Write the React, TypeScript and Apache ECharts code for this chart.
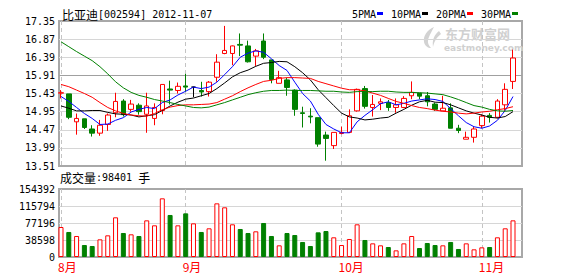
import React, { useEffect, useRef } from "react";
import * as echarts from "echarts";

// ---------- data ----------
const dates = [
  "2012-08-10", "2012-08-13", "2012-08-14", "2012-08-15", "2012-08-16", "2012-08-17", "2012-08-20", "2012-08-21",
  "2012-08-22", "2012-08-23", "2012-08-24", "2012-08-27", "2012-08-28", "2012-08-29", "2012-08-30", "2012-08-31",
  "2012-09-03", "2012-09-04", "2012-09-05", "2012-09-06", "2012-09-07", "2012-09-10", "2012-09-11", "2012-09-12",
  "2012-09-13", "2012-09-14", "2012-09-17", "2012-09-18", "2012-09-19", "2012-09-20", "2012-09-21", "2012-09-24",
  "2012-09-25", "2012-09-26", "2012-09-27", "2012-09-28",
  "2012-10-08", "2012-10-09", "2012-10-10", "2012-10-11", "2012-10-12", "2012-10-15", "2012-10-16", "2012-10-17",
  "2012-10-18", "2012-10-19", "2012-10-22", "2012-10-23", "2012-10-24", "2012-10-25", "2012-10-26", "2012-10-29",
  "2012-10-30", "2012-10-31",
  "2012-11-01", "2012-11-02", "2012-11-05", "2012-11-06", "2012-11-07",
];

const opens = [
  15.44, 15.42, 14.68, 14.76, 14.49, 14.38, 14.61, 14.92, 15.23, 15.01,
  15.12, 14.88, 14.77, 14.98, 15.55, 15.51, 15.63, 15.6, 15.51, 15.48,
  15.86, 16.49, 16.49, 16.73, 16.69, 16.42, 16.82, 16.32, 15.7, 15.79,
  15.52, 14.92, 14.83, 14.79, 14.33, 14.05, 14.37, 14.4, 14.97, 15.56,
  15.06, 15.17, 15.19, 15.06, 15.06, 15.37, 15.44, 15.37, 15.15, 14.97,
  15.05, 14.51, 14.22, 14.27, 14.58, 14.85, 14.8, 15.13, 15.75,
];
const closes = [
  15.45, 14.8, 14.77, 14.53, 14.38, 14.59, 14.86, 15.22, 14.87, 15.15,
  14.95, 15.1, 15.06, 15.67, 15.52, 15.62, 15.6, 15.6, 15.47, 15.73,
  16.26, 16.57, 16.69, 16.71, 16.27, 16.56, 16.39, 15.8, 15.85, 15.59,
  15.01, 14.9, 14.81, 14.09, 14.24, 14.4, 14.4, 14.84, 15.54, 15.09,
  15.14, 15.21, 15.06, 15.13, 15.3, 15.46, 15.36, 15.21, 15.01, 15.04,
  14.51, 14.45, 14.27, 14.49, 14.83, 14.8, 15.23, 15.54, 16.37,
];
const lows = [
  15.3, 14.75, 14.34, 14.49, 14.29, 14.31, 14.44, 14.8, 14.82, 14.95,
  14.87, 14.39, 14.59, 14.88, 15.14, 15.43, 15.48, 15.33, 15.35, 15.35,
  15.74, 16.47, 16.18, 16.42, 16.25, 16.16, 16.34, 15.7, 15.7, 15.37,
  14.84, 14.53, 14.64, 14.02, 13.65, 13.96, 14.35, 14.38, 14.95, 15.03,
  14.82, 14.99, 14.97, 14.92, 15.04, 15.28, 15.28, 15.09, 14.97, 14.97,
  14.51, 14.38, 14.22, 14.13, 14.51, 14.66, 14.77, 14.97, 15.55,
];
const highs = [
  15.52, 15.42, 14.9, 14.76, 14.59, 14.73, 14.9, 15.45, 15.28, 15.26,
  15.17, 15.45, 15.17, 15.67, 15.77, 15.72, 15.95, 15.61, 15.74, 15.76,
  16.47, 17.22, 16.7, 17.02, 16.83, 16.61, 17.02, 16.32, 16.03, 15.84,
  15.54, 15.08, 15.04, 14.79, 14.42, 14.4, 14.55, 15.01, 15.56, 15.63,
  15.39, 15.3, 15.26, 15.3, 15.36, 15.75, 15.44, 15.47, 15.19, 15.37,
  15.17, 14.6, 14.42, 14.55, 14.88, 14.91, 15.28, 15.7, 16.59,
];
const volumes = [
  68100, 56800, 47700, 27200, 25000, 40100, 49200, 90100, 54500, 51500,
  47700, 83200, 71900, 133200, 95400, 71900, 99100, 76400, 56800, 65100,
  121800, 112800, 74200, 63600, 54500, 58300, 77200, 47700, 26500, 54500,
  49900, 34100, 25000, 56000, 59000, 44700, 27200, 40900, 74200, 38600,
  31000, 26500, 22700, 15100, 31000, 47700, 20400, 31800, 27200, 26500,
  34100, 18200, 31000, 17400, 21900, 22700, 44700, 65100, 83200,
];
const ma5 = [
  15.35, 15.22, 15.06, 14.9, 14.77, 14.61, 14.62, 14.72, 14.79, 14.94,
  15.01, 15.06, 15.03, 15.19, 15.26, 15.39, 15.49, 15.6, 15.56, 15.6,
  15.73, 15.93, 16.14, 16.39, 16.5, 16.56, 16.52, 16.35, 16.17, 16.04,
  15.73, 15.43, 15.23, 14.88, 14.61, 14.49, 14.39, 14.39, 14.68, 14.85,
  15.0, 15.16, 15.21, 15.13, 15.17, 15.23, 15.26, 15.29, 15.27, 15.22,
  15.03, 14.84, 14.66, 14.55, 14.51, 14.57, 14.72, 14.98, 15.35,
];
const ma10 = [
  15.1, 15.04, 14.97, 14.97, 14.98, 14.98, 14.93, 14.89, 14.88, 14.86,
  14.81, 14.84, 14.87, 14.98, 15.1, 15.2, 15.28, 15.31, 15.37, 15.43,
  15.56, 15.71, 15.87, 15.98, 16.05, 16.15, 16.23, 16.25, 16.28, 16.27,
  16.14, 15.98, 15.79, 15.53, 15.32, 15.11, 14.91, 14.81, 14.78, 14.73,
  14.75, 14.78, 14.8, 14.91, 15.01, 15.12, 15.21, 15.25, 15.2, 15.19,
  15.13, 15.05, 14.97, 14.91, 14.86, 14.8, 14.78, 14.82, 14.95,
];
const ma20 = [
  15.67, 15.61, 15.52, 15.43, 15.33, 15.19, 15.06, 14.97, 14.9, 14.86,
  14.84, 14.83, 14.9, 15.0, 15.07, 15.11, 15.13, 15.13, 15.14, 15.15,
  15.19, 15.28, 15.37, 15.48, 15.58, 15.67, 15.75, 15.78, 15.83, 15.85,
  15.85, 15.84, 15.83, 15.75, 15.69, 15.63, 15.57, 15.53, 15.53, 15.5,
  15.44, 15.38, 15.3, 15.22, 15.17, 15.11, 15.06, 15.03, 14.99, 14.96,
  14.94, 14.91, 14.89, 14.91, 14.94, 14.96, 15.0, 15.03, 15.08,
];
const ma30 = [
  16.8, 16.67, 16.54, 16.42, 16.3, 16.14, 15.95, 15.74, 15.58, 15.46,
  15.38, 15.33, 15.27, 15.23, 15.19, 15.14, 15.1, 15.06, 15.05, 15.07,
  15.13, 15.19, 15.26, 15.33, 15.4, 15.45, 15.49, 15.51, 15.51, 15.52,
  15.51, 15.51, 15.51, 15.5, 15.49, 15.49, 15.47, 15.46, 15.48, 15.48,
  15.48, 15.49, 15.49, 15.47, 15.46, 15.46, 15.45, 15.44, 15.42, 15.4,
  15.34, 15.27, 15.19, 15.11, 15.07, 15.01, 14.97, 14.96, 14.98,
];
const maNames = ["5PMA", "10PMA", "20PMA", "30PMA"];
const priceTicks = [13.51, 13.99, 14.47, 14.95, 15.43, 15.91, 16.39, 16.87, 17.35];
const volumeTicks = [0, 38598, 77196, 115794, 154392];
const stockName = "比亚迪";
const stockCode = "[002594]";
const quoteDate = "2012-11-07";
const lastVolume = 98401;

// ---------- styles / layout ----------
const UP = "#ff0000";
const DOWN = "#008000";
const FLAT = "#000000";
const MA_COLORS = ["#0000ff", "#000000", "#ff0000", "#008000"];
const MONO = "DejaVu Sans Mono";
const CJK = "Noto Sans CJK SC";
const FRAME_LEFT = 59;
const FRAME_W = 463;
const DATA_LEFT = 61;
const DATA_W = 452;
const PRICE_TOP = 21;
const PRICE_H = 145;
const VOL_TOP = 189;
const VOL_H = 68;

const LOGO_D =
  "M12 0 C5 3 1 9 2 15 C3 19 6 21 9 21 C6 18 5 14 7 10 C8 7 10 4 12 0 Z M17 4 C12 8 10 13 11 20 C12 15 14 11 19 7 Z";
try {
  echarts.graphic.registerShape("logo", echarts.graphic.extendPath(LOGO_D, {}));
} catch (e) {
  /* already registered */
}

function buildOption() {
  const monthStarts = dates
    .map((d, i) => (i === 0 || d.slice(5, 7) !== dates[i - 1].slice(5, 7) ? i : -1))
    .filter((i) => i >= 0);
  const isMonthStart = (i: number) => monthStarts.indexOf(i) >= 0;

  const candleData = dates.map((_, i) => {
    const v = [opens[i], closes[i], lows[i], highs[i]];
    if (opens[i] === closes[i]) {
      return {
        value: v,
        itemStyle: { color: FLAT, color0: FLAT, borderColor: FLAT, borderColor0: FLAT, borderColorDoji: FLAT },
      };
    }
    return v;
  });

  const volData = dates.map((_, i) => {
    const up = closes[i] >= opens[i];
    return {
      value: volumes[i],
      itemStyle: up
        ? { color: "#ffffff", borderColor: UP, borderWidth: 1 }
        : { color: DOWN, borderColor: DOWN, borderWidth: 1 },
    };
  });

  const pStep = Math.round((priceTicks[1] - priceTicks[0]) * 100) / 100;
  const vStep = volumeTicks[1] - volumeTicks[0];
  const midIdx = Math.floor(priceTicks.length / 2);
  const priceLineColors = priceTicks.map((_, i) => (i === midIdx ? "#a0a0a0" : "#d6d6d6"));

  const mas = [ma5, ma10, ma20, ma30];

  // legend graphics
  const legend: any[] = [];
  let lx = 352;
  maNames.forEach((name, k) => {
    const tw = name.length * 6;
    legend.push({
      type: "text",
      x: lx,
      y: 14,
      style: { text: name, fontFamily: MONO, fontSize: 10, fill: "#000", verticalAlign: "middle" },
    });
    legend.push({
      type: "rect",
      shape: { x: lx + tw + 1, y: 12, width: 6, height: 3 },
      style: { fill: MA_COLORS[k] },
    });
    lx += tw + 1 + 6 + 8;
  });

  const vDash = { color: "#c4c4c4", type: [4, 3], width: 1 };

  return {
    animation: false,
    backgroundColor: "#ffffff",
    grid: [
      { left: FRAME_LEFT, top: PRICE_TOP, width: FRAME_W, height: PRICE_H, show: true, borderColor: "#a8a8a8", borderWidth: 2, backgroundColor: "transparent" },
      { left: DATA_LEFT, top: PRICE_TOP, width: DATA_W, height: PRICE_H },
      { left: FRAME_LEFT, top: VOL_TOP, width: FRAME_W, height: VOL_H, show: true, borderColor: "#a8a8a8", borderWidth: 2, backgroundColor: "transparent" },
      { left: DATA_LEFT, top: VOL_TOP, width: DATA_W, height: VOL_H },
    ],
    xAxis: [
      { gridIndex: 0, type: "value", min: 0, max: 1, show: false },
      {
        gridIndex: 1,
        type: "category",
        data: dates,
        boundaryGap: false,
        axisLine: { show: false },
        axisTick: { show: false },
        axisLabel: { show: false },
        splitLine: { show: true, interval: (i: number) => isMonthStart(i), lineStyle: vDash },
      },
      { gridIndex: 2, type: "value", min: 0, max: 1, show: false },
      {
        gridIndex: 3,
        type: "category",
        data: dates,
        boundaryGap: false,
        axisLine: { show: false },
        axisTick: { show: false },
        axisLabel: {
          show: true,
          interval: (i: number) => isMonthStart(i),
          formatter: (v: string) => Number(v.slice(5, 7)) + "月",
          color: UP,
          fontFamily: CJK,
          fontSize: 12,
          align: "left",
          margin: 3,
          padding: [0, 0, 0, -3],
        },
        splitLine: { show: true, interval: (i: number) => isMonthStart(i), lineStyle: vDash },
      },
    ],
    yAxis: [
      {
        gridIndex: 0,
        type: "value",
        min: priceTicks[0],
        max: priceTicks[priceTicks.length - 1],
        interval: pStep,
        axisLine: { show: false },
        axisTick: { show: false },
        axisLabel: {
          formatter: (v: number) => v.toFixed(2),
          fontFamily: MONO,
          fontSize: 10,
          color: "#000",
          margin: 4,
          padding: [0, 0, 3, 0],
        },
        splitLine: { show: true, showMinLine: false, showMaxLine: false, lineStyle: { color: priceLineColors, width: 1 } },
      },
      { gridIndex: 1, type: "value", min: priceTicks[0], max: priceTicks[priceTicks.length - 1], show: false },
      {
        gridIndex: 2,
        type: "value",
        min: volumeTicks[0],
        max: volumeTicks[volumeTicks.length - 1],
        interval: vStep,
        axisLine: { show: false },
        axisTick: { show: false },
        axisLabel: {
          formatter: (v: number) => String(Math.round(v)),
          fontFamily: MONO,
          fontSize: 10,
          color: "#000",
          margin: 4,
          padding: [5, 0, 0, 0],
        },
        splitLine: { show: true, showMinLine: false, showMaxLine: false, lineStyle: { color: "#d6d6d6", width: 1 } },
      },
      { gridIndex: 3, type: "value", min: volumeTicks[0], max: volumeTicks[volumeTicks.length - 1], show: false },
    ],
    series: [
      {
        type: "candlestick",
        xAxisIndex: 1,
        yAxisIndex: 1,
        data: candleData,
        barWidth: 5,
        itemStyle: {
          color: "#ffffff",
          color0: DOWN,
          borderColor: UP,
          borderColor0: DOWN,
          borderWidth: 1,
        },
      },
      ...mas.map((arr, k) => ({
        type: "line",
        name: maNames[k],
        xAxisIndex: 1,
        yAxisIndex: 1,
        data: arr,
        symbol: "none",
        showSymbol: false,
        lineStyle: { color: MA_COLORS[k], width: 1 },
      })),
      {
        type: "bar",
        xAxisIndex: 3,
        yAxisIndex: 3,
        data: volData,
        barWidth: 5,
      },
    ],
    graphic: [
      {
        type: "text",
        x: 62,
        y: 14,
        style: {
          text: `{a|${stockName}}{b|${stockCode} ${quoteDate}}`,
          verticalAlign: "middle",
          rich: {
            a: { fontFamily: CJK, fontSize: 12, fill: "#000" },
            b: { fontFamily: MONO, fontSize: 10, fill: "#000" },
          },
        },
      },
      ...legend,
      {
        type: "text",
        x: 60,
        y: 177,
        style: {
          text: `{a|成交量}{b|:${lastVolume} }{a|手}`,
          verticalAlign: "middle",
          rich: {
            a: { fontFamily: CJK, fontSize: 12, fill: "#000" },
            b: { fontFamily: MONO, fontSize: 10, fill: "#000" },
          },
        },
      },
      {
        type: "logo",
        x: 422,
        y: 27,
        scaleX: 1,
        scaleY: 1,
        style: { fill: "#d2d2d2" },
      },
      {
        type: "text",
        x: 445,
        y: 33,
        style: { text: "东方财富网", fontFamily: CJK, fontSize: 13, fontWeight: "bold", fill: "#d0d0d0", verticalAlign: "middle" },
      },
      {
        type: "text",
        x: 444,
        y: 48,
        style: { text: "eastmoney.com", fontFamily: "DejaVu Sans", fontSize: 9, fontWeight: "bold", fill: "#d0d0d0", verticalAlign: "middle" },
      },
    ],
  };
}

export default function App() {
  const ref = useRef<HTMLDivElement>(null);
  useEffect(() => {
    if (!ref.current) return;
    const chart = echarts.init(ref.current, undefined, { renderer: "svg" });
    chart.setOption(buildOption() as any);
    return () => chart.dispose();
  }, []);
  return (
    <div
      ref={ref}
      style={{ position: "absolute", left: 0, top: 0, width: 578, height: 276, background: "#fff" }}
    />
  );
}
